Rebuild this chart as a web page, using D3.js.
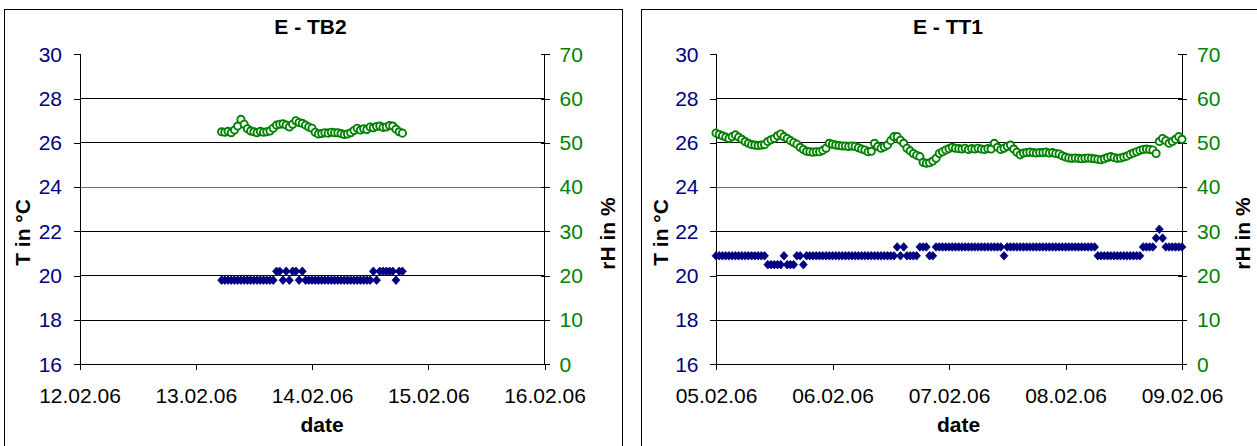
<!DOCTYPE html>
<html><head><meta charset="utf-8">
<script src="https://cdn.jsdelivr.net/npm/d3@7"></script>
<style>
html,body{margin:0;padding:0;background:#fff;}
svg{display:block;}
text{font-family:"Liberation Sans",Arial,Helvetica,sans-serif;}
</style>
</head><body>
<svg id="chart" width="1257" height="446"></svg>
<script>
// ---------- data ----------
const tempTicks = [16, 18, 20, 22, 24, 26, 28, 30];
const rhTicks = [0, 10, 20, 30, 40, 50, 60, 70];
const sampleStepMinutes = 40;

// Panel 1: E - TB2
const tb2Title = "E - TB2";
const tb2DateTicks = ["2006-02-12", "2006-02-13", "2006-02-14", "2006-02-15", "2006-02-16"];
const tb2Start = "2006-02-13T05:20:00Z";
const tb2Temp = [
  19.8,19.8,19.8,19.8,19.8,19.8,19.8,19.8,19.8,19.8,
  19.8,19.8,19.8,19.8,19.8,19.8,19.8,20.2,20.2,19.8,
  20.2,19.8,20.2,20.2,19.8,20.2,19.8,19.8,19.8,19.8,
  19.8,19.8,19.8,19.8,19.8,19.8,19.8,19.8,19.8,19.8,
  19.8,19.8,19.8,19.8,19.8,19.8,19.8,20.2,19.8,20.2,
  20.2,20.2,20.2,20.2,19.8,20.2,20.2
];
const tb2RH = [
  52.5,52.4,52.6,52.3,52.9,53.8,55.3,54.2,53.2,52.7,
  52.5,52.3,52.6,52.4,52.5,52.7,53.3,54.0,54.2,54.3,
  54.0,53.6,54.2,55.0,54.6,54.4,54.0,53.6,53.3,52.4,
  52.0,52.1,52.3,52.2,52.4,52.3,52.3,52.1,51.9,52.0,
  52.3,52.8,53.3,52.9,53.2,53.0,53.6,53.4,53.7,53.8,
  53.5,53.6,53.9,53.8,53.1,52.5,52.2
];

// Panel 2: E - TT1
const tt1Title = "E - TT1";
const tt1DateTicks = ["2006-02-05", "2006-02-06", "2006-02-07", "2006-02-08", "2006-02-09"];
const tt1Start = "2006-02-05T00:00:00Z";
const tt1Temp = [
  20.9,20.9,20.9,20.9,20.9,20.9,20.9,20.9,20.9,20.9,
  20.9,20.9,20.9,20.9,20.9,20.9,20.5,20.5,20.5,20.5,
  20.5,20.9,20.5,20.5,20.5,20.9,20.9,20.5,20.9,20.9,
  20.9,20.9,20.9,20.9,20.9,20.9,20.9,20.9,20.9,20.9,
  20.9,20.9,20.9,20.9,20.9,20.9,20.9,20.9,20.9,20.9,
  20.9,20.9,20.9,20.9,20.9,20.9,21.3,20.9,21.3,20.9,
  20.9,20.9,20.9,21.3,21.3,21.3,20.9,20.9,21.3,21.3,
  21.3,21.3,21.3,21.3,21.3,21.3,21.3,21.3,21.3,21.3,
  21.3,21.3,21.3,21.3,21.3,21.3,21.3,21.3,21.3,20.9,
  21.3,21.3,21.3,21.3,21.3,21.3,21.3,21.3,21.3,21.3,
  21.3,21.3,21.3,21.3,21.3,21.3,21.3,21.3,21.3,21.3,
  21.3,21.3,21.3,21.3,21.3,21.3,21.3,21.3,20.9,20.9,
  20.9,20.9,20.9,20.9,20.9,20.9,20.9,20.9,20.9,20.9,
  20.9,20.9,21.3,21.3,21.3,21.3,21.7,22.1,21.7,21.3,
  21.3,21.3,21.3,21.3,21.3
];
const tt1RH = [
  52.2,51.9,51.6,51.3,51.0,51.4,51.8,51.3,50.8,50.3,
  49.9,49.6,49.5,49.4,49.5,49.6,50.3,50.7,51.0,51.6,
  52.0,51.4,51.0,50.5,50.1,49.7,49.0,48.5,48.1,48.0,
  47.9,48.0,48.0,48.3,48.8,49.9,49.7,49.5,49.4,49.3,
  49.3,49.2,49.3,49.2,48.9,48.6,48.4,48.0,48.1,49.9,
  49.2,48.8,49.1,49.5,50.5,51.4,51.4,50.6,49.9,48.8,
  48.2,47.6,47.2,46.9,45.6,45.4,45.5,45.9,46.5,47.6,
  48.0,48.4,48.7,49.0,48.8,48.7,48.6,48.8,48.5,48.7,
  48.6,48.8,48.6,48.5,48.7,48.6,49.9,49.0,48.5,48.8,
  49.2,49.5,48.6,47.9,47.3,47.7,47.8,47.9,47.8,47.7,
  47.8,47.8,47.9,47.7,47.8,47.6,47.5,47.1,46.8,46.6,
  46.5,46.6,46.5,46.4,46.5,46.6,46.5,46.4,46.3,46.2,
  46.4,46.7,46.9,46.7,46.5,46.6,46.8,47.0,47.4,47.7,
  48.0,48.3,48.5,48.6,48.5,48.4,47.6,50.3,51.0,50.5,
  49.9,50.3,50.8,51.4,50.8
];

const tempLabel = "T in °C";
const rhLabel = "rH in %";
const dateLabel = "date";

// ---------- drawing ----------
const svg = d3.select("#chart");
const NAVY = "#000080", GREEN = "#008000";
const FONT = 21;
const TOP = 54.3, BOTTOM = 364.3;

function makeTimes(start, n) {
  const t0 = new Date(start);
  return d3.range(n).map(i => d3.utcMinute.offset(t0, i * sampleStepMinutes));
}

function drawPanel(p) {
  const g = svg.append("g");
  g.append("rect").attr("x", p.boxX).attr("y", 9.5).attr("width", p.boxW).attr("height", 600)
    .attr("fill", "#fff").attr("stroke", "#000").attr("stroke-width", 1);

  const ticks = p.dateTicks.map(d => new Date(d + "T00:00:00Z"));
  const x = d3.scaleUtc().domain([ticks[0], ticks[ticks.length - 1]]).range([p.x0, p.x1]);
  const yT = d3.scaleLinear().domain([tempTicks[0], tempTicks[tempTicks.length - 1]]).range([BOTTOM, TOP]);
  const yR = d3.scaleLinear().domain([rhTicks[0], rhTicks[rhTicks.length - 1]]).range([BOTTOM, TOP]);

  g.append("g").selectAll("line").data(tempTicks.slice(1, -1)).join("line")
    .attr("x1", p.x0).attr("x2", p.x1)
    .attr("y1", d => yT(d)).attr("y2", d => yT(d))
    .attr("stroke", d => d === 24 ? "#6e6e6e" : "#000").attr("stroke-width", 1).attr("shape-rendering", "crispEdges");

  const ax = g.append("g").attr("transform", `translate(${p.x0},0)`)
    .call(d3.axisLeft(yT).tickValues(tempTicks).tickSize(6).tickPadding(11.5).tickFormat(d3.format("d")));
  ax.attr("font-size", FONT).attr("font-family", null);
  ax.selectAll("text").attr("fill", NAVY);

  const ar = g.append("g").attr("transform", `translate(${p.x1 - 4},0)`)
    .call(d3.axisRight(yR).tickValues(rhTicks).tickSize(9).tickPadding(10).tickFormat(d3.format("d")));
  ar.attr("font-size", FONT).attr("font-family", null);
  ar.select(".domain").remove();
  ar.selectAll("text").attr("fill", GREEN);
  g.append("line").attr("x1", p.x1).attr("x2", p.x1).attr("y1", TOP).attr("y2", BOTTOM)
    .attr("stroke", "#000").attr("shape-rendering", "crispEdges");

  const ab = g.append("g").attr("transform", `translate(0,${BOTTOM})`)
    .call(d3.axisBottom(x).tickValues(ticks).tickSize(6).tickSizeOuter(0).tickPadding(18)
      .tickFormat(d3.utcFormat("%d.%m.%y")));
  ab.attr("font-size", FONT).attr("font-family", null);
  ab.selectAll("text").attr("fill", "#000");
  g.selectAll(".tick line, .domain").attr("stroke", "#000").attr("shape-rendering", "crispEdges");

  const times = makeTimes(p.start, p.temp.length);
  g.append("g").selectAll("path").data(p.temp).join("path")
    .attr("d", "M0,-4.3L3.9,0L0,4.3L-3.9,0Z")
    .attr("transform", (d, i) => `translate(${x(times[i])},${yT(d)})`)
    .attr("fill", NAVY).attr("stroke", NAVY).attr("stroke-width", 0.8).attr("stroke-linejoin", "round");
  g.append("g").selectAll("circle").data(p.rh).join("circle")
    .attr("cx", (d, i) => x(times[i])).attr("cy", d => yR(d)).attr("r", 3.6)
    .attr("fill", "#fff").attr("stroke", GREEN).attr("stroke-width", 1.9);

  g.append("text").attr("x", p.titleX).attr("y", 34.3).attr("text-anchor", "middle")
    .attr("font-size", FONT).attr("font-weight", "bold").text(p.title);
  g.append("text").attr("x", p.dateX).attr("y", 431.7).attr("text-anchor", "middle")
    .attr("font-size", FONT).attr("font-weight", "bold").text(dateLabel);
  g.append("text").attr("transform", `translate(${p.tLabX},232.5) rotate(-90)`)
    .attr("text-anchor", "middle").attr("font-size", FONT).attr("font-weight", "bold").text(tempLabel);
  g.append("text").attr("transform", `translate(${p.rLabX},233.5) rotate(-90)`)
    .attr("text-anchor", "middle").attr("font-size", FONT).attr("font-weight", "bold").text(rhLabel);
}

drawPanel({
  title: tb2Title, dateTicks: tb2DateTicks, start: tb2Start, temp: tb2Temp, rh: tb2RH,
  boxX: 4.5, boxW: 618, x0: 79.5, x1: 544.5,
  titleX: 310.5, dateX: 322, tLabX: 30, rLabX: 614.5
});
drawPanel({
  title: tt1Title, dateTicks: tt1DateTicks, start: tt1Start, temp: tt1Temp, rh: tt1RH,
  boxX: 641.5, boxW: 700, x0: 716, x1: 1182,
  titleX: 948, dateX: 958.5, tLabX: 668, rLabX: 1250
});
</script>
</body></html>
